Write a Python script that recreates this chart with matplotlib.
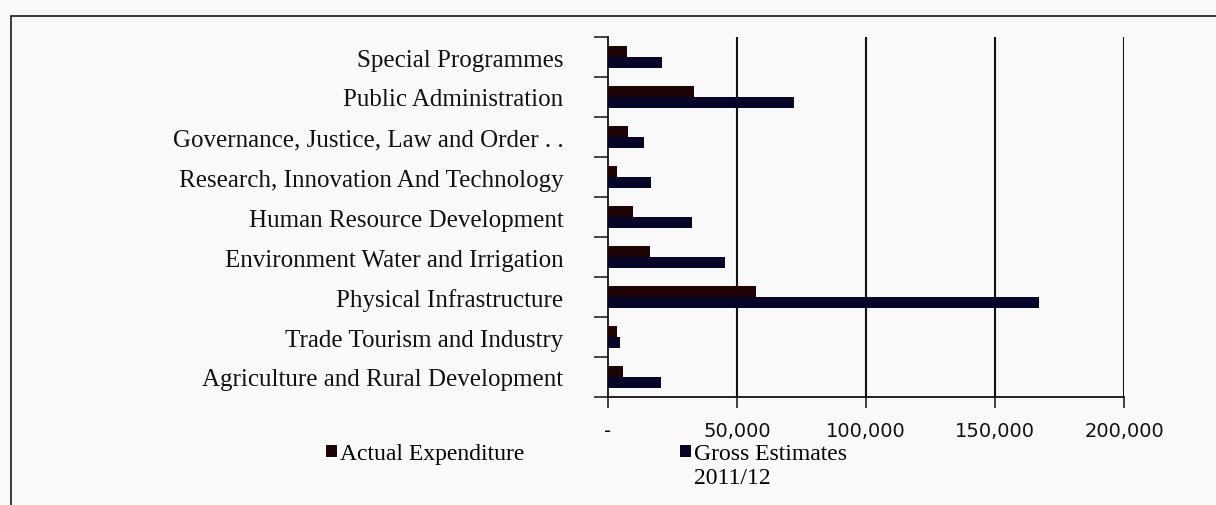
import matplotlib.pyplot as plt
from matplotlib.patches import Rectangle
from matplotlib.legend_handler import HandlerPatch
from matplotlib.ticker import FixedLocator, FuncFormatter

# sectors, bottom to top as drawn on the category axis
sectors = [
    "Agriculture and Rural Development",
    "Trade Tourism and Industry",
    "Physical Infrastructure",
    "Environment Water and Irrigation",
    "Human Resource Development",
    "Research, Innovation And Technology",
    "Governance, Justice, Law and Order . .",
    "Public Administration",
    "Special Programmes",
]
actual_expenditure = [6000, 3500, 57400, 16200, 9600, 3500, 7800, 33300, 7400]
gross_estimates = [20400, 4800, 166900, 45300, 32500, 16600, 14000, 72200, 21000]
x_ticks = [0, 50000, 100000, 150000, 200000]

SERIF = ["Liberation Serif", "DejaVu Serif"]
BG = "#f9f9f9"
BROWN, NAVY = "#1e0404", "#05052a"

fig = plt.figure(figsize=(12.16, 5.06), dpi=100, facecolor=BG)
ax = fig.add_axes([608 / 1216, 1 - 398 / 506, (1124 - 608) / 1216, (398 - 38) / 506])
ax.set_facecolor(BG)

# outer chart-area frame (runs off the right and bottom edges)
fig.add_artist(Rectangle((11 / 1216, -0.2), 1.2, 1.2 - 17 / 506, transform=fig.transFigure,
                         fill=False, edgecolor="#2a2a2a", linewidth=1.3))

pos = list(range(len(sectors)))
h = 0.275
bars_actual = ax.barh([p + h / 2 for p in pos], actual_expenditure, height=h, color=BROWN,
                      label="Actual Expenditure", zorder=3)
bars_gross = ax.barh([p - h / 2 for p in pos], gross_estimates, height=h, color=NAVY,
                     label="Gross Estimates\n2011/12", zorder=3)

ax.set_xlim(0, 200000)
ax.set_ylim(-0.5, len(sectors) - 0.5)

# vertical gridlines
for v in x_ticks[1:]:
    ax.axvline(v, color="#111111", lw=1.5, zorder=1)

ax.xaxis.set_major_locator(FixedLocator(x_ticks))
ax.xaxis.set_major_formatter(FuncFormatter(lambda v, _: "-" if v == 0 else f"{v:,.0f}"))
ax.tick_params(axis="x", length=8, width=1.2, color="#222222", pad=9,
               labelsize=14, labelcolor="#111111")
for t in ax.get_xticklabels():
    t.set_family("DejaVu Sans")

# category labels sit between boundary tick marks
ax.set_yticks(pos)
ax.set_yticklabels(sectors, family=SERIF, fontsize=18, color="#111111")
ax.set_yticks([p - 0.5 for p in pos] + [len(sectors) - 0.5], minor=True)
ax.tick_params(axis="y", which="major", length=0, pad=32)
ax.tick_params(axis="y", which="minor", length=10, width=1.2, color="#222222")

for s in ("top", "right"):
    ax.spines[s].set_visible(False)
for s in ("left", "bottom"):
    ax.spines[s].set_linewidth(1.3)
    ax.spines[s].set_color("#111111")


def first_line_square(legend, orig_handle, xdescent, ydescent, width, height, fontsize):
    # lift the key square up to the first line of a two-line label
    return Rectangle((-xdescent, -ydescent + 0.6 * fontsize), width, height)


def from_first_bar(handle, orig):
    handle.update_from(orig.patches[0])


legend_kw = dict(frameon=False, prop={"family": SERIF, "size": 17},
                 handlelength=0.45, handleheight=0.45, handletextpad=0.15,
                 borderpad=0, borderaxespad=0)
fig.legend(handles=[bars_actual], loc="center left",
           bbox_to_anchor=(326 / 1216, 1 - 455 / 506), **legend_kw)
fig.legend(handles=[bars_gross], loc="upper left",
           bbox_to_anchor=(680 / 1216, 1 - 444 / 506),
           handler_map={bars_gross: HandlerPatch(patch_func=first_line_square,
                                                 update_func=from_first_bar)},
           **legend_kw)

fig.savefig("out.png", dpi=100, facecolor=BG)
